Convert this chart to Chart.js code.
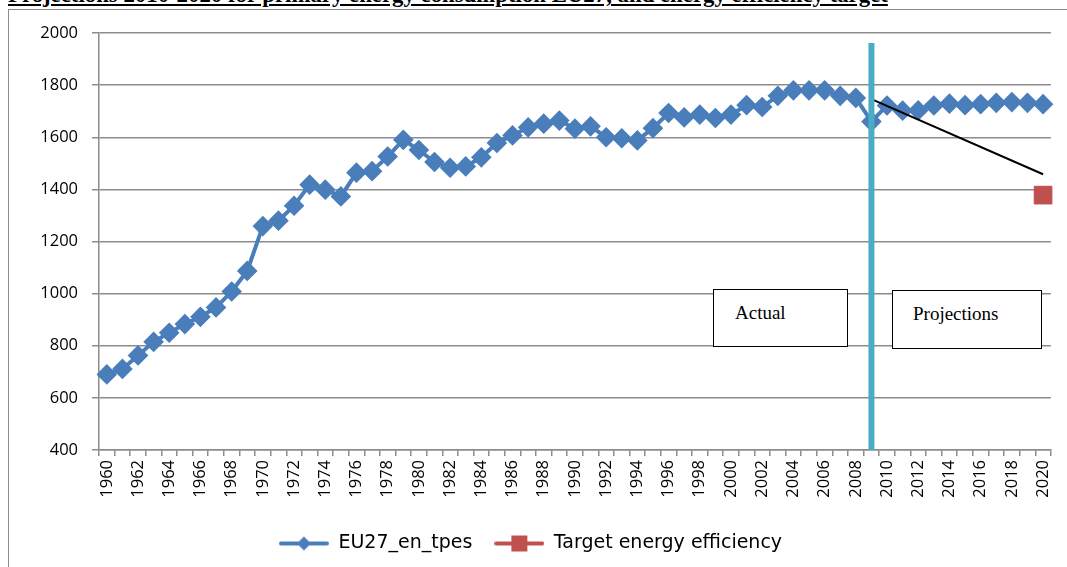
<!DOCTYPE html>
<html>
<head>
<meta charset="utf-8">
<script src="https://cdn.jsdelivr.net/npm/chart.js@4.4.1/dist/chart.umd.min.js"></script>
<style>
  html, body { margin: 0; padding: 0; background: #fff; overflow: hidden; }
  #wrap { position: absolute; left: 0; top: 0; width: 1067px; height: 567px; }
  #frame { position: absolute; left: 8px; top: 9px; width: 1200px; height: 700px; border: 1.5px solid #8a8a8a; }
  #title { position: absolute; left: 8px; top: -16px; font: bold 22.8px "Liberation Serif", serif; line-height: 22px; text-decoration: underline; white-space: nowrap; color: #000; }
  .box { position: absolute; border: 1.5px solid #000; background: #fff; font: 19px "Liberation Serif", serif; color: #000; box-sizing: border-box; }
</style>
</head>
<body>
<div id="title">Projections 2010-2020 for primary energy consumption EU27, and energy efficiency target</div>
<div id="frame"></div>
<div id="wrap"><canvas id="energyChart" width="1067" height="567"></canvas></div>
<div class="box" style="left:713px; top:289px; width:135px; height:58px; padding:12px 0 0 21px;">Actual</div>
<div class="box" style="left:892px; top:290px; width:150px; height:59px; padding:12px 0 0 20px;">Projections</div>
<script>
// chart data
const years = ['1960','1961','1962','1963','1964','1965','1966','1967','1968','1969',
  '1970','1971','1972','1973','1974','1975','1976','1977','1978','1979',
  '1980','1981','1982','1983','1984','1985','1986','1987','1988','1989',
  '1990','1991','1992','1993','1994','1995','1996','1997','1998','1999',
  '2000','2001','2002','2003','2004','2005','2006','2007','2008','2009',
  '2010','2011','2012','2013','2014','2015','2016','2017','2018','2019','2020'];

const tpes = [690, 711, 763, 815, 850, 883, 911, 947, 1008, 1087,
  1259, 1280, 1337, 1418, 1399, 1373, 1464, 1470, 1526, 1590,
  1551, 1505, 1483, 1488, 1523, 1578, 1607, 1638, 1652, 1664,
  1633, 1642, 1600, 1596, 1588, 1635, 1693, 1676, 1687, 1674,
  1687, 1723, 1716, 1759, 1780, 1780, 1780, 1759, 1751, 1660,
  1722, 1702, 1703, 1722, 1729, 1723, 1727, 1732, 1735, 1732, 1727];

const target = [{ x: '2020', y: 1378 }];
const trend = [{ x: '2009', y: 1746 }, { x: '2020', y: 1458 }];
const divider = [{ x: '2009', y: 400 }, { x: '2009', y: 1962 }];

const yTicks = [400, 600, 800, 1000, 1200, 1400, 1600, 1800, 2000];

const blue = '#4a7ebb';
const red = '#c0504d';
const cyan = '#4bacc6';
const gridGrey = '#8c8c8c';

// legend swatch: line with marker on it
function swatch(color, shape) {
  const c = document.createElement('canvas');
  c.width = 50; c.height = 18;
  const g = c.getContext('2d');
  g.strokeStyle = color; g.lineWidth = 4; g.lineCap = 'round';
  g.beginPath(); g.moveTo(2, 9); g.lineTo(48, 9); g.stroke();
  g.fillStyle = color;
  g.beginPath();
  if (shape === 'diamond') {
    g.moveTo(25, 2); g.lineTo(32, 9); g.lineTo(25, 16); g.lineTo(18, 9);
  } else {
    g.rect(17, 1, 16, 16);
  }
  g.closePath(); g.fill();
  return c;
}

const ctx = document.getElementById('energyChart').getContext('2d');
new Chart(ctx, {
  type: 'line',
  data: {
    labels: years,
    datasets: [
      {
        label: 'EU27_en_tpes',
        data: tpes,
        borderColor: blue,
        backgroundColor: blue,
        borderWidth: 4,
        pointStyle: 'rectRot',
        pointRadius: 7.5,
        pointHoverRadius: 7.5,
        tension: 0,
        order: 4
      },
      {
        label: 'Target energy efficiency',
        data: target,
        borderColor: red,
        backgroundColor: red,
        pointStyle: 'rect',
        pointRadius: 12.5,
        showLine: false,
        order: 1
      },
      {
        label: 'trend',
        data: trend,
        borderColor: '#000',
        borderWidth: 2,
        pointRadius: 0,
        order: 2
      },
      {
        label: 'divider',
        data: divider,
        borderColor: cyan,
        borderWidth: 6,
        pointRadius: 0,
        order: 0
      }
    ]
  },
  options: {
    responsive: false,
    animation: false,
    layout: { padding: { left: 10, top: 33, right: 16, bottom: 4 } },
    plugins: {
      tooltip: { enabled: false },
      legend: {
        position: 'bottom',
        labels: {
          usePointStyle: true,
          pointStyleWidth: 50,
          padding: 22,
          color: '#000',
          font: { family: 'DejaVu Sans', size: 19 },
          generateLabels: () => [
            { text: 'EU27_en_tpes', pointStyle: swatch(blue, 'diamond'), fillStyle: blue, strokeStyle: blue, lineWidth: 0, datasetIndex: 0, fontColor: '#000' },
            { text: 'Target energy efficiency', pointStyle: swatch(red, 'square'), fillStyle: red, strokeStyle: red, lineWidth: 0, datasetIndex: 1, fontColor: '#000' }
          ]
        }
      }
    },
    scales: {
      x: {
        offset: true,
        afterFit: s => { s.height = 62; },
        grid: { offset: true, drawOnChartArea: false, drawTicks: true, tickLength: 6, color: gridGrey, lineWidth: 1.5 },
        border: { color: gridGrey, width: 1.5 },
        ticks: {
          autoSkip: false,
          maxRotation: 90,
          minRotation: 90,
          padding: 4,
          color: '#000',
          font: { family: 'Open Sans', size: 16.5 },
          callback: function (v, i) { return i % 2 === 0 ? this.getLabelForValue(v) : ''; }
        }
      },
      y: {
        min: yTicks[0],
        max: yTicks[yTicks.length - 1],
        afterFit: s => { s.width = 89; },
        afterBuildTicks: s => { s.ticks = yTicks.map(v => ({ value: v })); },
        grid: { color: gridGrey, lineWidth: 1.5, tickLength: 7 },
        border: { color: gridGrey, width: 1.5 },
        ticks: {
          padding: 14,
          color: '#000',
          font: { family: 'Open Sans', size: 16.5 },
          callback: v => String(v)
        }
      }
    }
  }
});
</script>
</body>
</html>
